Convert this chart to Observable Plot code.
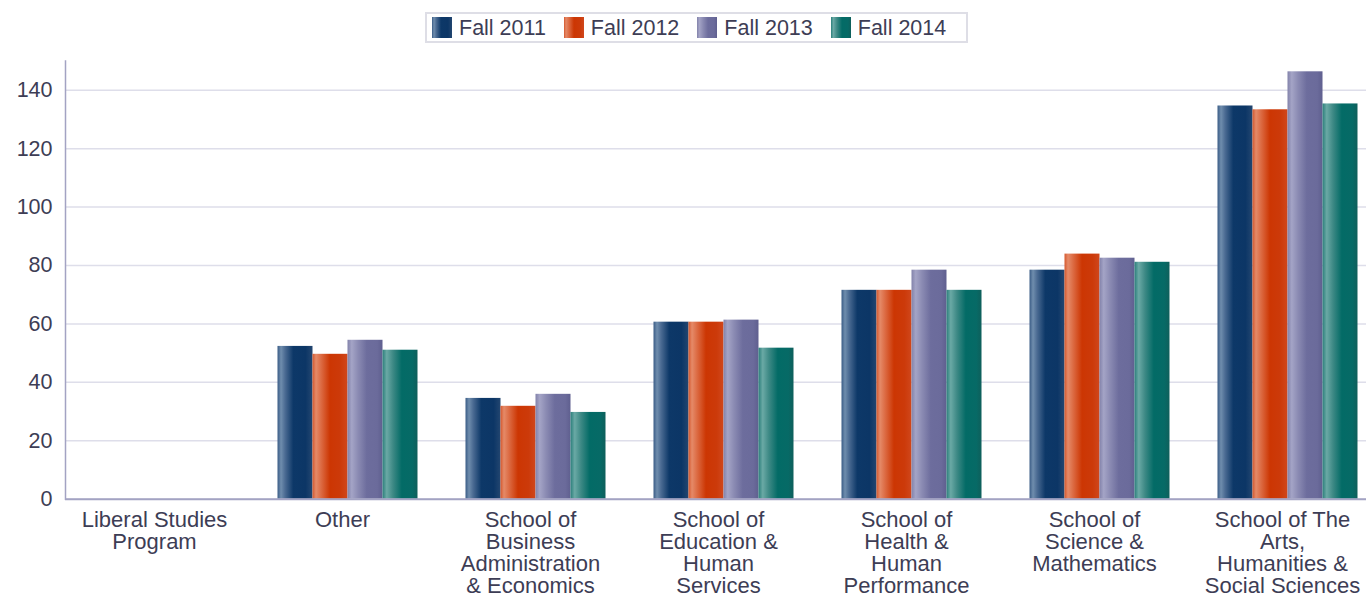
<!DOCTYPE html>
<html>
<head>
<meta charset="utf-8">
<script src="https://cdn.jsdelivr.net/npm/d3@7"></script>
<script src="https://cdn.jsdelivr.net/npm/@observablehq/plot@0.6"></script>
<style>
  html, body { margin: 0; padding: 0; background: #fff; overflow: hidden; }
  body { font-family: "Liberation Sans", Arial, sans-serif; color: #3d3d55; width: 1366px; height: 595px; }
  #legend { position: relative; height: 52px; }
  #legend .box { position: absolute; left: 425px; top: 12px; width: 543px; height: 31px; box-sizing: border-box;
    border: 2px solid #dedee6; display: flex; align-items: center; padding-left: 5px; }
  #legend .item { display: flex; align-items: center; margin-right: 18px; }
  #legend .sw { width: 20px; height: 21px; margin-right: 7px; }
  #legend .lab { font-size: 21.5px; line-height: 1; color: #3d3d55; white-space: nowrap; position: relative; top: 1px; }
</style>
</head>
<body>
<div id="legend"><div class="box"></div></div>
<div id="chart"></div>
<script>
// ---- data ----
const categories = [
  "Liberal Studies\nProgram",
  "Other",
  "School of\nBusiness\nAdministration\n& Economics",
  "School of\nEducation &\nHuman\nServices",
  "School of\nHealth &\nHuman\nPerformance",
  "School of\nScience &\nMathematics",
  "School of The\nArts,\nHumanities &\nSocial Sciences"
];
const seriesNames = ["Fall 2011", "Fall 2012", "Fall 2013", "Fall 2014"];
const fall2011 = [0, 52.3, 34.5, 60.6, 71.5, 78.4, 134.6];
const fall2012 = [0, 49.6, 31.8, 60.6, 71.5, 83.9, 133.3];
const fall2013 = [0, 54.4, 35.9, 61.3, 78.4, 82.5, 146.3];
const fall2014 = [0, 51.0, 29.7, 51.7, 71.5, 81.1, 135.3];
const yTicks = [0, 20, 40, 60, 80, 100, 120, 140];

// ---- styling ----
const gradientStops = [
  [[0, "#3a5c86"], [0.1, "#6f8dad"], [0.22, "#4a6a92"], [0.45, "#0d3868"], [0.8, "#0c3666"], [1, "#234670"]],
  [[0, "#d5582e"], [0.1, "#e58a68"], [0.25, "#dc6a42"], [0.5, "#cc3603"], [0.8, "#cc3a0a"], [1, "#d0471c"]],
  [[0, "#8282aa"], [0.12, "#a4a4c6"], [0.3, "#8b8bb3"], [0.55, "#6d6d9d"], [0.85, "#6b6b9b"], [1, "#5f5f8f"]],
  [[0, "#2b7f7b"], [0.12, "#6aa9a5"], [0.3, "#3d8985"], [0.55, "#036b66"], [0.85, "#066a66"], [1, "#0f5f5b"]]
];
const gradIds = seriesNames.map((_, i) => `barGrad${i}`);

const valuesBySeries = [fall2011, fall2012, fall2013, fall2014];
const data = [];
categories.forEach((c, ci) => {
  seriesNames.forEach((s, si) => {
    data.push({category: c, series: s, value: valuesBySeries[si][ci]});
  });
});

const textColor = "#3d3d55";
const axisColor = "#a3a3c3";

const svg = Plot.plot({
  width: 1381,
  height: 543,
  marginLeft: 64.5,
  marginRight: 0,
  marginTop: 8.5,
  marginBottom: 96.3,
  style: {fontFamily: "'Liberation Sans', Arial, sans-serif", color: textColor, background: "#fff", maxWidth: "none"},
  fx: {domain: categories, paddingInner: 0, paddingOuter: 0, label: null},
  x: {domain: seriesNames, paddingInner: 0, paddingOuter: 0.6667, axis: null},
  y: {domain: [0, 150], label: null},
  color: {domain: seriesNames, range: gradIds.map(id => `url(#${id})`)},
  marks: [
    Plot.gridY({ticks: yTicks, stroke: "#dedeea", strokeOpacity: 1, strokeWidth: 1.5}),
    Plot.barY(data, {fx: "category", x: "series", y: "value", fill: "series"}),
    Plot.ruleY([0], {stroke: axisColor, strokeWidth: 2}),
    Plot.frame({anchor: "left", facetAnchor: "left", stroke: axisColor, strokeWidth: 1.5}),
    Plot.axisY({ticks: yTicks, tickSize: 0, tickPadding: 13, fontSize: 21.5, fill: textColor, label: null}),
    Plot.axisFx({anchor: "bottom", tickSize: 0, tickPadding: 12.5, dx: -5, fontSize: 22, fill: textColor, label: null, lineHeight: 1})
  ]
});

// gradient definitions
const defs = d3.select(svg).insert("defs", ":first-child");
gradIds.forEach((id, i) => {
  const g = defs.append("linearGradient").attr("id", id)
    .attr("x1", "0").attr("x2", "1").attr("y1", "0").attr("y2", "0");
  gradientStops[i].forEach(([o, c]) => g.append("stop").attr("offset", o).attr("stop-color", c));
});

document.getElementById("chart").appendChild(svg);

// legend
const box = document.querySelector("#legend .box");
seriesNames.forEach((s, i) => {
  const item = document.createElement("div");
  item.className = "item";
  const sw = document.createElement("div");
  sw.className = "sw";
  sw.style.background = `linear-gradient(to right, ${gradientStops[i].map(([o, c]) => `${c} ${o * 100}%`).join(", ")})`;
  const lab = document.createElement("span");
  lab.className = "lab";
  lab.textContent = s;
  item.appendChild(sw);
  item.appendChild(lab);
  box.appendChild(item);
});
</script>
</body>
</html>
